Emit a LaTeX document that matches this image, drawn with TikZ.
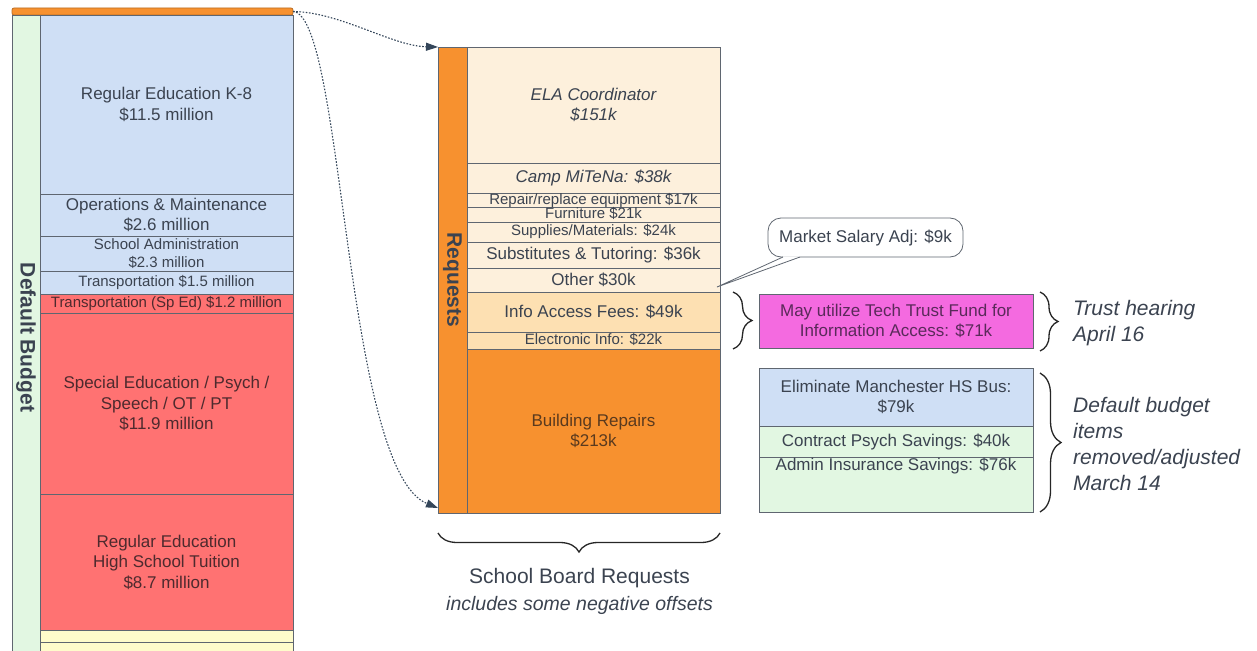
\documentclass[tikz,border=0pt]{standalone}
\usepackage{fontspec}
\setmainfont{Liberation Sans}
\usetikzlibrary{positioning,calc,arrows.meta,decorations.pathreplacing}

\definecolor{lblue}{HTML}{CFDFF5}
\definecolor{lred}{HTML}{FF7272}
\definecolor{lgreen}{HTML}{E2F7E2}
\definecolor{lyellow}{HTML}{FFFCCB}
\definecolor{orng}{HTML}{F7912F}
\definecolor{peach}{HTML}{FDF0DC}
\definecolor{peachdark}{HTML}{FDE0B2}
\definecolor{magnta}{HTML}{F46AE0}
\definecolor{gridline}{HTML}{5F6670}
\definecolor{ink}{HTML}{3B4350}
\definecolor{redink}{HTML}{4E2A2E}
\definecolor{brownink}{HTML}{5A3A1E}
\definecolor{purpleink}{HTML}{5A2A5A}
\definecolor{linkcol}{HTML}{34465A}

\tikzset{%
	cell/.style     = {draw=gridline, line width=0.8pt, rectangle, inner sep=0pt, outer sep=0pt, align=center, text=ink},
	col/.style      = {cell, minimum width=253pt}, % column cells
	side/.style     = {cell, minimum width=274pt}, % boxes on the right
	lbl/.style      = {font=\fontsize{17}{20.5}\selectfont},
	lblsm/.style    = {font=\fontsize{15}{18}\selectfont},
	lblit/.style    = {font=\fontsize{17}{20.5}\selectfont\itshape},
	thinrow/.style  = {text height=10.5pt, text depth=2.5pt},
	vbar/.style     = {cell, font=\fontsize{21}{24}\selectfont\bfseries},
	bubble/.style   = {draw=gridline, line width=0.8pt, fill=white, rounded corners=13pt, inner sep=0pt, outer sep=0pt, minimum width=195pt, minimum height=39pt, text=ink},
	remark/.style   = {text=ink, align=left, inner sep=0pt, font=\fontsize{21}{26}\selectfont\itshape},
	dotlink/.style  = {draw=linkcol, line width=1.1pt, dash pattern=on 1.6pt off 1.6pt},
	brace/.style    = {decorate, draw=black!85, line width=1.3pt}
}

\begin{document}
\begin{tikzpicture}[x=1pt, y=-1pt, >={Triangle[length=12pt,width=8pt]}]
	\useasboundingbox (0,0) rectangle (1257,650);

	\draw % Default budget column :
	node at (152.5,11.5) [cell, fill=orng, draw=orng!75!black, minimum width=281pt, minimum height=7pt, rounded corners=2pt] (topbar) {}
	node at (26,337.5) [vbar, fill=lgreen, minimum width=28pt, minimum height=645pt] (budbar) {\rotatebox{-90}{Default Budget}}
	node at (166.5,104.5) [col, lbl, fill=lblue, minimum height=179pt] (k8) {Regular Education K-8\\\$11.5 million}
	node at (166.5,215) [col, lbl, fill=lblue, minimum height=42pt] (ops) {Operations \& Maintenance\\\$2.6 million}
	node at (166.5,253.5) [col, lblsm, fill=lblue, minimum height=35pt] (adm) {School Administration\\\$2.3 million}
	node at (166.5,282.5) [col, lblsm, fill=lblue, minimum height=23pt] (bus) {Transportation \$1.5 million}
	node at (166.5,303.5) [col, lblsm, fill=lred, text=redink, minimum height=19pt] (spbus) {Transportation (Sp Ed) \$1.2 million}
	node at (166.5,403.5) [col, lbl, fill=lred, text=redink, minimum height=181pt] (sped) {Special Education / Psych /\\Speech / OT / PT\\\$11.9 million}
	node at (166.5,562) [col, lbl, fill=lred, text=redink, minimum height=136pt] (hs) {Regular Education\\High School Tuition\\\$8.7 million}
	node at (166.5,636) [col, fill=lyellow, minimum height=12pt] (yel1) {}
	node at (166.5,651) [col, fill=lyellow, minimum height=18pt] (yel2) {}
	;

	\draw % Requests column :
	node at (452.5,280) [vbar, fill=orng, minimum width=29pt, minimum height=466pt] (reqbar) {\rotatebox{-90}{Requests}}
	node at (593.5,105) [col, lblit, fill=peach, minimum height=116pt] (ela) {ELA Coordinator\\\$151k}
	node at (593.5,178) [col, lblit, fill=peach, minimum height=30pt] (camp) {Camp MiTeNa: \$38k}
	node at (593.5,200) [col, lblsm, thinrow, fill=peach, minimum height=14pt] (repair) {Repair/replace equipment \$17k}
	node at (593.5,214.5) [col, lblsm, thinrow, fill=peach, minimum height=15pt] (furn) {Furniture \$21k}
	node at (593.5,232) [col, lblsm, fill=peach, minimum height=20pt] (supp) {Supplies/Materials: \$24k}
	node at (593.5,255) [col, lbl, fill=peach, minimum height=26pt] (subs) {Substitutes \& Tutoring: \$36k}
	node at (593.5,280) [col, lbl, fill=peach, minimum height=24pt] (other) {Other \$30k}
	node at (593.5,312) [col, lbl, fill=peachdark, minimum height=40pt] (info) {Info Access Fees: \$49k}
	node at (593.5,340.5) [col, lblsm, thinrow, fill=peachdark, minimum height=17pt] (elec) {Electronic Info: \$22k}
	node at (593.5,431) [col, lbl, fill=orng, text=brownink, minimum height=164pt] (build) {Building Repairs\\\$213k}
	node at (579.5,578) [text=ink, font=\fontsize{21}{24}\selectfont] (sbr) {School Board Requests}
	node at (579.5,605) [text=ink, font=\fontsize{19.5}{22}\selectfont\itshape] (sbrsub) {includes some negative offsets}
	;

	% Boxes on the right
	\node at (896,321) [side, lbl, fill=magnta, text=purpleink, minimum height=54pt] (trust) {May utilize Tech Trust Fund for\\Information Access: \$71k};
	\node at (896,397) [side, lbl, fill=lblue, minimum height=58pt] (hsbus) {Eliminate Manchester HS Bus:\\\$79k};
	\node [side, lbl, fill=lgreen, minimum height=31pt, below=0pt of hsbus] (psych) {Contract Psych Savings: \$40k};
	\node [side, fill=lgreen, minimum height=55pt, below=0pt of psych] (insur) {};
	\node [lbl, text=ink, anchor=north, inner sep=0pt, below=1pt of insur.north] (insurtxt) {Admin Insurance Savings: \$76k};
	\node at (1073,323) [remark, anchor=west] (trustnote) {Trust hearing\\April 16};
	\node at (1073,443.5) [remark, anchor=west] (defnote) {Default budget\\items\\removed/adjusted\\March 14};

	% Callout for the salary adjustment
	\node at (865.5,237.5) [bubble, lbl] (salary) {Market Salary Adj: \$9k};
	\coordinate (tip) at ([xshift=-3pt,yshift=5pt]other.south east);
	\fill[white] ([xshift=15pt,yshift=0.7pt]salary.south west) -- ([xshift=15pt]salary.south west) -- (tip)
		-- ([xshift=32pt]salary.south west) -- ([xshift=32pt,yshift=0.7pt]salary.south west) -- cycle;
	\draw[draw=gridline, line width=0.8pt] ([xshift=15pt]salary.south west) -- (tip) -- ([xshift=32pt]salary.south west);

	% Dotted links from the budget to the requests
	\draw[dotlink, ->] (topbar.east) .. controls (340,12) and (392,46) .. (reqbar.north west);
	\draw[dotlink, ->] (topbar.east) .. controls (344,14) and (344,470) .. ([yshift=5pt]reqbar.south west);

	% Braces
	\draw[brace, decoration={brace, amplitude=19pt}] ([xshift=13pt]info.north east) -- ([xshift=13pt]elec.south east);
	\draw[brace, decoration={brace, amplitude=18pt}] ([xshift=7pt,yshift=2pt]trust.north east) -- ([xshift=7pt,yshift=-3pt]trust.south east);
	\draw[brace, decoration={brace, amplitude=21pt}] ([xshift=7pt,yshift=-5pt]hsbus.north east) -- ([xshift=7pt]insur.south east);
	\draw[brace, decoration={brace, amplitude=19pt}] ([yshift=-20pt]build.south east) -- ([yshift=-20pt]reqbar.south west);
\end{tikzpicture}
\end{document}
